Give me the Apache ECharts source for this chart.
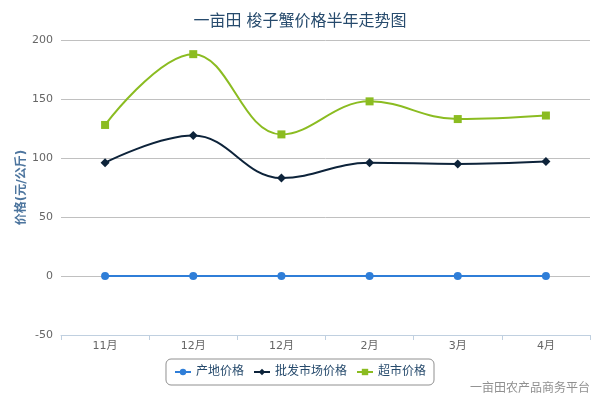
<!DOCTYPE html>
<html>
<head>
<meta charset="utf-8">
<script src="https://cdn.jsdelivr.net/npm/echarts@6/dist/echarts.min.js"></script>
<style>
  html, body { margin: 0; padding: 0; background: #fff; }
  #chart { width: 600px; height: 400px; }
</style>
</head>
<body>
<div id="chart"></div>
<script>
const months = ['11月', '12月', '12月', '2月', '3月', '4月']
const originPrice = [0, 0, 0, 0, 0, 0]
const wholesalePrice = [96, 119, 83, 96, 95, 97]
const marketPrice = [128, 188, 120, 148, 133, 136]

const font = '"DejaVu Sans", "Noto Sans CJK SC", sans-serif'

const chart = echarts.init(document.getElementById('chart'))

const option = {
  backgroundColor: '#fff',
  animation: false,
  textStyle: { fontFamily: font },
  title: {
    text: '一亩田 梭子蟹价格半年走势图',
    left: 'center',
    top: 9,
    textStyle: { color: '#274b6d', fontSize: 16, fontWeight: 'normal', fontFamily: font }
  },
  legend: {
    left: 'center',
    top: 359,
    padding: [7, 8],
    itemGap: 9,
    itemWidth: 16,
    itemHeight: 8,
    borderColor: '#909090',
    borderWidth: 1,
    borderRadius: 5,
    textStyle: { color: '#274b6d', fontSize: 12, fontFamily: font },
    data: ['产地价格', '批发市场价格', '超市价格']
  },
  graphic: [{
    type: 'text',
    right: 10,
    top: 383,
    style: { text: '一亩田农产品商务平台', fill: '#909090', fontSize: 12, fontFamily: font }
  }],
  grid: { left: 61, right: 10, top: 40, bottom: 65 },
  xAxis: {
    type: 'category',
    data: months,
    boundaryGap: true,
    axisLine: { onZero: false, lineStyle: { color: '#c0d0e0', width: 1 } },
    axisTick: { show: true, length: 5, lineStyle: { color: '#c0d0e0' } },
    axisLabel: { color: '#666', fontSize: 11, margin: 6 }
  },
  yAxis: {
    type: 'value',
    min: -50,
    max: 200,
    interval: 50,
    name: '价格(元/公斤)',
    nameLocation: 'middle',
    nameGap: 33,
    nameRotate: 90,
    nameMoveOverlap: false,
    nameTextStyle: { color: '#4d759e', fontSize: 12, fontWeight: 'bold', fontFamily: font },
    axisLine: { show: false },
    axisTick: { show: false },
    axisLabel: { color: '#666', fontSize: 11, margin: 8 },
    splitLine: { lineStyle: { color: '#c0c0c0', width: 1 } }
  },
  series: [
    {
      name: '产地价格',
      type: 'line',
      smooth: 0.4,
      data: originPrice,
      symbol: 'circle',
      symbolSize: 8,
      color: '#2f7ed8',
      lineStyle: { width: 2 }
    },
    {
      name: '批发市场价格',
      type: 'line',
      smooth: 0.4,
      data: wholesalePrice,
      symbol: 'diamond',
      symbolSize: 9,
      color: '#0d233a',
      lineStyle: { width: 2 }
    },
    {
      name: '超市价格',
      type: 'line',
      smooth: 0.4,
      data: marketPrice,
      symbol: 'rect',
      symbolSize: 8,
      color: '#8bbc21',
      lineStyle: { width: 2 }
    }
  ]
}

chart.setOption(option)

window.addEventListener('resize', () => {
  chart.resize()
})
</script>
</body>
</html>
